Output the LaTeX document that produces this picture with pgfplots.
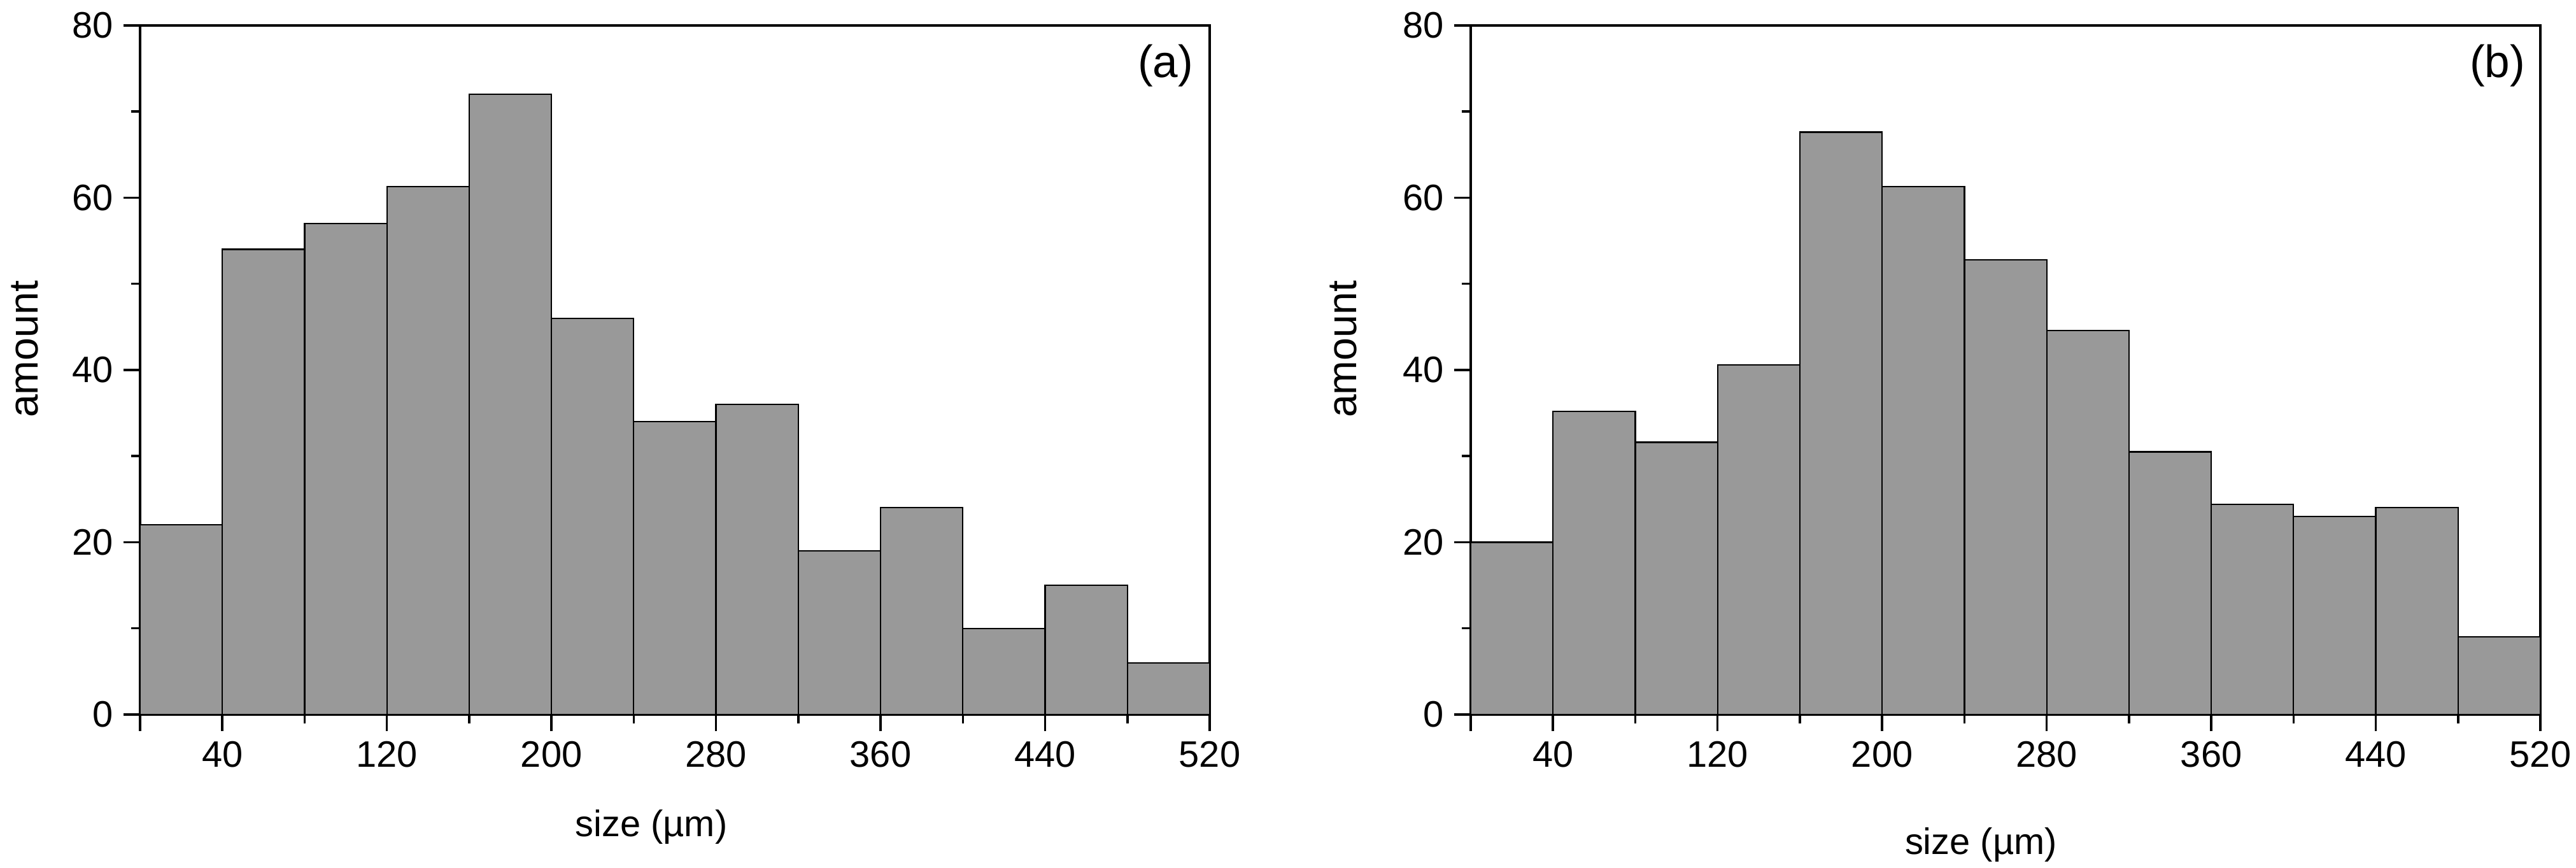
\documentclass[border=0pt]{standalone}
\usepackage{fontspec}
\setmainfont{Liberation Sans}
\usepackage{pgfplots}
\pgfplotsset{compat=1.18}

\definecolor{bargray}{RGB}{153,153,153}

\pgfplotsset{
  histo/.style={
    scale only axis,
    width=378pt, height=243.5pt,
    xmin=0, xmax=520, ymin=0, ymax=80,
    xtick={0,40,120,200,280,360,440,520},
    xticklabels={,40,120,200,280,360,440,520},
    minor xtick={80,160,240,320,400,480},
    ytick={0,20,40,60,80},
    minor ytick={10,30,50,70},
    tick pos=left, tick align=outside,
    major tick length=5.9pt, minor tick length=3.2pt,
    every tick/.style={black, line width=0.8pt},
    axis line style={line width=0.9pt},
    tick label style={font=\fontsize{13}{15}\selectfont},
    /pgf/number format/assume math mode=true,
    xlabel={size (µm)},
    ylabel={amount},
    xlabel style={font=\fontsize{13}{15}\selectfont, anchor=center},
    ylabel style={font=\fontsize{14.5}{16}\selectfont, anchor=center},
  },
  bars/.style={ybar interval, fill=bargray, draw=black, line width=0.5pt},
}

\begin{document}
\begin{tikzpicture}
% panel (a)
\begin{axis}[histo, at={(0,0)}, anchor=south west,
  xlabel style={at={(axis description cs:0.478,-0.163)}},
  ylabel style={at={(axis description cs:-0.108,0.53)}}]
\addplot[bars] coordinates {
  (0,22) (40,54) (80,57) (120,61.3) (160,72) (200,46) (240,34)
  (280,36) (320,19) (360,24) (400,10) (440,15) (480,6) (520,6)
};
\node[anchor=north east, inner sep=0pt, font=\fontsize{16}{18}\selectfont]
  at (rel axis cs:1,1) [xshift=-5.6pt, yshift=-6.5pt] {(a)};
\end{axis}
% panel (b)
\begin{axis}[histo, at={(470.25pt,0)}, anchor=south west,
  xlabel style={at={(axis description cs:0.477,-0.189)}},
  ylabel style={at={(axis description cs:-0.119,0.53)}}]
\addplot[bars] coordinates {
  (0,20) (40,35.2) (80,31.6) (120,40.6) (160,67.6) (200,61.3) (240,52.8)
  (280,44.6) (320,30.5) (360,24.4) (400,23) (440,24) (480,9) (520,9)
};
\node[anchor=north east, inner sep=0pt, font=\fontsize{16}{18}\selectfont]
  at (rel axis cs:1,1) [xshift=-5.2pt, yshift=-6.5pt] {(b)};
\end{axis}
\pgfresetboundingbox
\useasboundingbox (-49.5pt,-54.2pt) rectangle (860.85pt,252.45pt);
\end{tikzpicture}
\end{document}
